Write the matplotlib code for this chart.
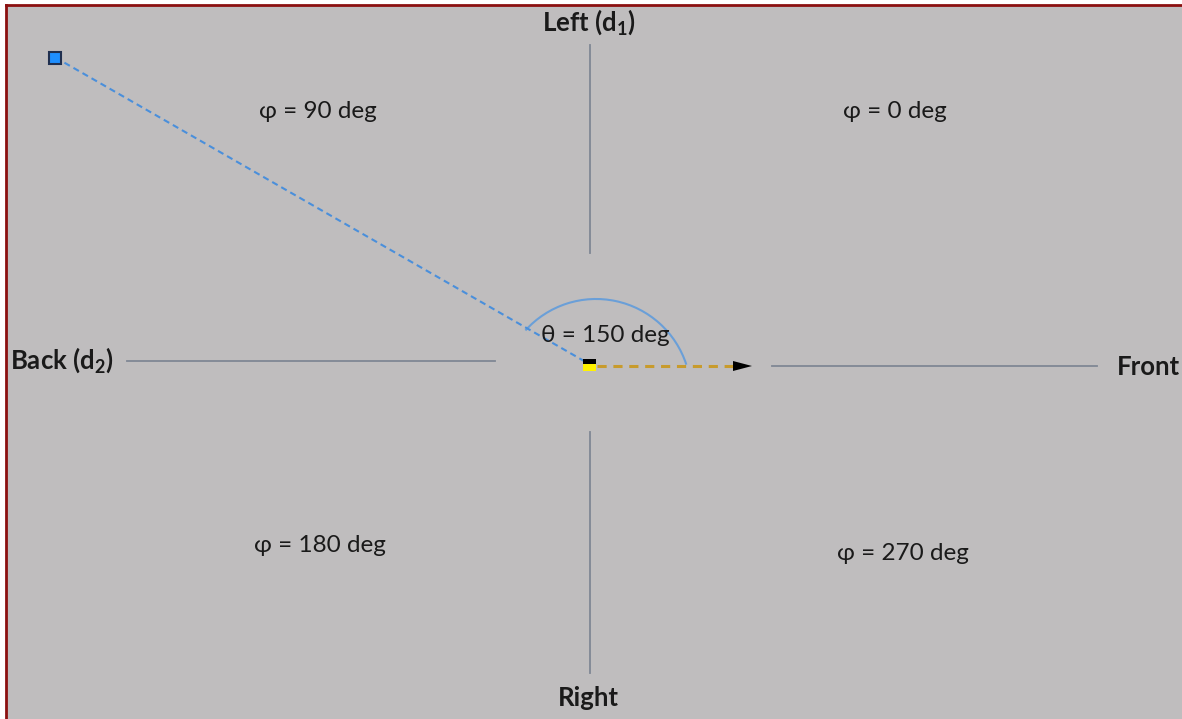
"""Схема: источник звука относительно слушателя (азимут theta, квадранты phi)."""
import numpy as np
import matplotlib
matplotlib.use("Agg")
import matplotlib.pyplot as plt
from matplotlib.patches import Rectangle, Arc

plt.rcParams["font.family"] = ["Lato", "DejaVu Sans"]
plt.rcParams["mathtext.fontset"] = "custom"
plt.rcParams["mathtext.rm"] = "Lato"
plt.rcParams["mathtext.bf"] = "Lato:bold"

# --- данные
THETA_DEG = 150          # азимут источника
SOURCE_DIST = 615        # расстояние до источника (px)
QUADRANT_PHI = [90, 0, 180, 270]
AXIS_NAMES = ["Left (d$_\\mathbf{1}$)", "Back (d$_\\mathbf{2}$)", "Front", "Right"]

# --- раскладка (координаты в px относительно слушателя, y вверх)
W, H = 1182, 719
X0, Y0 = 588, 365
PHI_POS = [(-270, 253), (307, 253), (-268, -181), (315, -188)]

BG = "#BFBDBE"
AX_COL = "#7F8794"
TXT = "#1A1A1A"

fig = plt.figure(figsize=(W / 100, H / 100), dpi=100)
ax = fig.add_axes([0, 0, 1, 1])
ax.set_xlim(-X0, W - X0)
ax.set_ylim(Y0 - H, Y0)
ax.axis("off")

# фон + рамка (сверху и слева)
ax.add_patch(Rectangle((-582, Y0 - H), W, H - 5, facecolor=BG, edgecolor="none", zorder=0))
ax.plot([-582, W - X0], [360, 360], color="#8B1010", lw=2, zorder=1)
ax.plot([-582, -582], [Y0 - H, 360], color="#8B1010", lw=2, zorder=1)

# оси
ax.plot([2, 2], [112, 320], color=AX_COL, lw=1.3)
ax.plot([2, 2], [-308, -67], color=AX_COL, lw=1.3)
ax.plot([-461, -93], [4, 4], color=AX_COL, lw=1.3)
ax.plot([184, 509], [-1, -1], color=AX_COL, lw=1.3)

# источник и линия к слушателю
th = np.deg2rad(THETA_DEG)
sx, sy = SOURCE_DIST * np.cos(th), SOURCE_DIST * np.sin(th)
ax.plot([sx, -4], [sy, 4], color="#4A8FDB", lw=1.5, ls=(0, (3, 2)), zorder=3)
ax.plot(sx, sy, marker="s", ms=8, mfc="#1E8FFF", mec="#1F2F4F", mew=1.5, zorder=4)

# направление взгляда
ax.plot([9, 146], [-1, -1], color="#C89B2C", lw=2.2, ls=(0, (3, 2.2)), zorder=3)
ax.arrow(145, -1, 19, 0, head_width=10, head_length=19, length_includes_head=True,
         color="black", lw=0, zorder=4)

# дуга угла
ax.add_patch(Arc((8, -29), 190, 190, theta1=18, theta2=138, color="#6A9FD8", lw=1.5, zorder=2))

# слушатель
ax.add_patch(Rectangle((-5, 1), 13, 5, facecolor="black", edgecolor="none", zorder=5))
ax.add_patch(Rectangle((-5, -6), 13, 7, facecolor="#FFF200", edgecolor="none", zorder=5))

# подписи
fs_b, fs_n = 18.5, 17.5
ax.text(1, 343, AXIS_NAMES[0], ha="center", va="center", fontsize=fs_b, fontweight="bold", color=TXT)
ax.text(-578, 5, AXIS_NAMES[1], ha="left", va="center", fontsize=fs_b, fontweight="bold", color=TXT)
ax.text(529, -2, AXIS_NAMES[2], ha="left", va="center", fontsize=fs_b, fontweight="bold", color=TXT)
ax.text(0, -333, AXIS_NAMES[3], ha="center", va="center", fontsize=fs_b, fontweight="bold", color=TXT)
for phi, (px, py) in zip(QUADRANT_PHI, PHI_POS):
    ax.text(px, py, f"φ = {phi} deg", ha="center", va="center", fontsize=fs_n, color=TXT)
ax.text(17, 29, f"θ = {THETA_DEG} deg", ha="center", va="center", fontsize=fs_n, color=TXT, zorder=6)

fig.savefig("out.png", dpi=100, facecolor="white")
